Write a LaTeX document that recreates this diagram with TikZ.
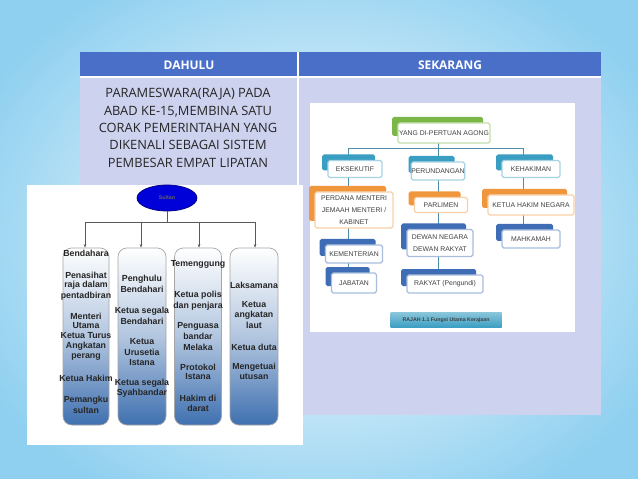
\documentclass[tikz,border=0pt]{standalone}
\usepackage{fontspec}
\setmainfont{Open Sans}
\setsansfont{Liberation Sans}
\usetikzlibrary{arrows.meta,shapes.geometric}
\definecolor{hdr}{HTML}{4A6FC9}
\definecolor{bodyc}{HTML}{CDD2EE}
\definecolor{bg}{HTML}{8FD0F0}
\definecolor{bblue}{HTML}{3F70B0}
\definecolor{cgreen}{HTML}{7AB648}
\definecolor{cteal}{HTML}{3A9EC2}
\definecolor{corange}{HTML}{F0963C}
\definecolor{cblue}{HTML}{3E6DB5}
\definecolor{lnc}{HTML}{4D8FA8}
\tikzset{
 lt/.style={font=\sffamily\bfseries\fontsize{5}{6}\selectfont, inner sep=0pt, text=black!85},
 col/.style={rounded corners=5pt, draw=gray!70, top color=white, bottom color=bblue, middle color=white!60!bblue},
 rt/.style={font=\sffamily\fontsize{3.9}{7}\selectfont, text=black!75, align=center},
 conn/.style={draw=lnc, line width=0.5pt},
 lconn/.style={draw=gray!70!black, line width=0.5pt, -{Stealth[length=2pt]}},
}
\newcommand\rbox[7]{%
 \fill[#6, rounded corners=1pt] ({#2-#4/2-6},{#3-#5/2-6}) rectangle ({#2+#4/2-7},{#3+#5/2-7});
 \node[rt, draw=#6!45, line width=0.7pt, fill=white, rounded corners=1pt, minimum width=#4*0.02cm, minimum height=#5*0.02cm, inner sep=0pt] (#1) at (#2,#3) {#7};}
\begin{document}
\begin{tikzpicture}[x=0.02cm,y=-0.02cm]
\useasboundingbox (0,0) rectangle (638,479);
\shade[inner color=white, outer color=bg] (-60,-60) rectangle (698,539);
% table
\fill[bodyc] (80,77) rectangle (601,415);
\fill[hdr] (80,52) rectangle (601,77);
\draw[white, line width=0.8pt] (298,52) -- (298,415);
\draw[white, line width=0.8pt] (80,77) -- (601,77);
\node[font=\bfseries\fontsize{6.8}{8}\selectfont, text=white] (h1) at (189,65) {DAHULU};
\node[font=\bfseries\fontsize{6.8}{8}\selectfont, text=white] (h2) at (450,65) {SEKARANG};
\node[font=\fontsize{7.3}{9.9}\selectfont, align=center, anchor=north, inner sep=0pt, text=black!85] (dtext) at (188,88) {PARAMESWARA(RAJA) PADA\\ABAD KE-15,MEMBINA SATU\\CORAK PEMERINTAHAN YANG\\DIKENALI SEBAGAI SISTEM\\PEMBESAR EMPAT LIPATAN};
% left picture
\fill[white] (27,185) rectangle (303,445);
\node[ellipse, fill=blue!85!black, draw=blue!50!black, minimum width=60*0.02cm, minimum height=26*0.02cm, inner sep=0pt, font=\sffamily\bfseries\fontsize{3}{3}\selectfont, text=black!60] (sultan) at (167,198) {Sultan};
\node[col, minimum width=46*0.02cm, minimum height=177*0.02cm] (c1) at (86,336.5) {};
\node[col, minimum width=48*0.02cm, minimum height=177*0.02cm] (c2) at (142,336.5) {};
\node[col, minimum width=47*0.02cm, minimum height=177*0.02cm] (c3) at (198,336.5) {};
\node[col, minimum width=48*0.02cm, minimum height=177*0.02cm] (c4) at (254,336.5) {};
\coordinate (j) at (167,222);
\draw[gray!70!black, line width=0.5pt] (sultan.south) -- (j);
\draw[gray!70!black, line width=0.5pt] (85,222) -- (255,222);
\draw[lconn] (85,222) -- (c1.north -| 85,0);
\draw[lconn] (141,222) -- (c2.north -| 141,0);
\draw[lconn] (199,222) -- (c3.north -| 199,0);
\draw[lconn] (255,222) -- (c4.north -| 255,0);
\foreach \t/\y in {Bendahara/253,Penasihat/275,raja dalam/285,pentadbiran/296,Menteri/316,Utama/326,Ketua Turus/336,Angkatan/346,perang/357,Ketua Hakim/378,Pemangku/400,sultan/410} \node[lt] at (86,\y) {\t};
\foreach \t/\y in {Penghulu/279,Bendahari/289,Ketua segala/311,Bendahari/321,Ketua/342,Urusetia/352,Istana/363,Ketua segala/383,Syahbandar/393} \node[lt] at (142,\y) {\t};
\foreach \t/\y in {Temenggung/264,Ketua polis/295,dan penjara/306,Penguasa/326,bandar/336,Melaka/347,Protokol/367,Istana/377,Hakim di/398,darat/408} \node[lt] at (198,\y) {\t};
\foreach \t/\y in {Laksamana/285,Ketua/305,angkatan/315,laut/325,Ketua duta/347,Mengetuai/367,utusan/377} \node[lt] at (254,\y) {\t};
% right picture
\fill[white] (310,103) rectangle (575,332);
\draw[conn] (348,148) -- (524,148);
\draw[conn] (348,148) -- (348,285);
\draw[conn] (438,140) -- (438,285);
\draw[conn] (523,148) -- (523,240);
\rbox{ydpa}{444}{133}{92}{20}{cgreen}{YANG DI-PERTUAN AGONG}
\rbox{eks}{355}{169}{54}{17}{cteal}{EKSEKUTIF}
\rbox{per}{438}{171}{47}{18}{cteal}{PERUNDANGAN}
\rbox{keh}{531}{169}{58}{17}{cteal}{KEHAKIMAN}
\rbox{pm}{354}{210}{78}{36}{corange}{PERDANA MENTERI\\JEMAAH MENTERI /\\KABINET}
\rbox{parl}{441}{205}{53}{15}{corange}{PARLIMEN}
\rbox{khn}{531}{205}{86}{20}{corange}{KETUA HAKIM NEGARA}
\rbox{kem}{354}{254}{57}{18}{cblue}{KEMENTERIAN}
\rbox{jab}{354}{283}{45}{20}{cblue}{JABATAN}
\rbox{dewan}{440}{243}{66}{27}{cblue}{DEWAN NEGARA\\DEWAN RAKYAT}
\rbox{rak}{445}{284}{76}{18}{cblue}{RAKYAT (Pengundi)}
\rbox{mah}{531}{239}{58}{18}{cblue}{MAHKAMAH}
\node[rt, font=\sffamily\bfseries\fontsize{3}{3}\selectfont, minimum width=111*0.02cm, minimum height=15*0.02cm, top color=cteal!60, bottom color=cteal, inner sep=0pt] (cap) at (446,320) {RAJAH 1.1 Fungsi Utama Kerajaan};
\end{tikzpicture}
\end{document}
